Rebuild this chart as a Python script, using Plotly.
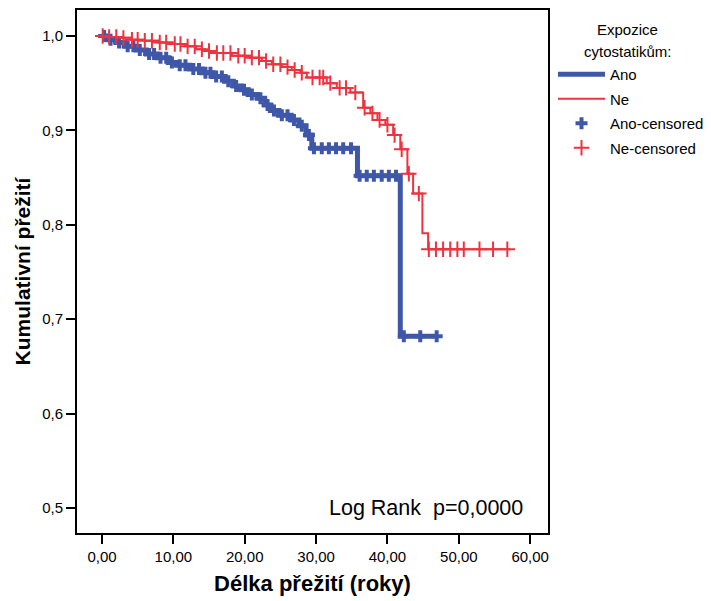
import numpy as np
import plotly.graph_objects as go

# ---- data ----
ano_event_t = [0.8, 2.0, 3.2, 4.8, 6.2, 7.7, 9.3, 10.5, 12.3, 14.0, 15.5, 17.2, 18.4, 19.5, 20.5,
               21.8, 22.8, 23.6, 24.8, 26.5, 27.6, 28.6, 29.4, 35.8, 41.8]
ano_surv = [0.996, 0.993, 0.989, 0.985, 0.981, 0.977, 0.972, 0.969, 0.965, 0.961, 0.957, 0.952,
            0.947, 0.943, 0.938, 0.934, 0.927, 0.921, 0.916, 0.911, 0.905, 0.895, 0.881, 0.852, 0.682]
ano_end = 47.1
ano_cens_t = [0.3, 1.2, 2.4, 3.6, 4.4, 5.3, 6.6, 7.3, 8.2, 9.0, 9.8, 10.9, 11.7, 12.8, 13.6, 14.5,
              15.2, 16.0, 16.8, 17.7, 18.8, 19.9, 21.0, 22.2, 23.2, 24.1, 25.2, 26.0, 26.9, 28.0,
              29.0, 29.7, 30.8, 31.8, 32.8, 33.8, 34.9, 36.1, 37.1, 38.1, 39.2, 40.2, 41.2, 42.3,
              44.6, 46.9]

ne_event_t = [0.4, 2.2, 4.2, 6.0, 7.9, 9.8, 11.6, 13.2, 14.4, 15.8, 18.2, 20.7, 22.4, 23.8, 25.2,
              26.6, 27.8, 28.7, 31.5, 32.9, 34.8, 36.6, 37.6, 38.6, 39.7, 40.8, 41.8, 42.8, 43.6,
              44.9, 45.7]
ne_surv = [0.999, 0.998, 0.996, 0.995, 0.993, 0.9915, 0.989, 0.986, 0.984, 0.982, 0.979, 0.977,
           0.9735, 0.970, 0.967, 0.964, 0.961, 0.956, 0.950, 0.945, 0.940, 0.924, 0.918, 0.911,
           0.906, 0.895, 0.880, 0.854, 0.833, 0.791, 0.774]
ne_end = 57.2
ne_cens_t = [0.1, 1.0, 2.0, 3.0, 4.2, 5.0, 6.0, 7.0, 8.1, 9.0, 10.2, 11.0, 12.0, 13.0, 14.0, 15.0,
             16.1, 17.0, 18.0, 19.1, 20.0, 21.0, 22.0, 23.0, 24.0, 25.0, 26.0, 27.0, 28.0, 29.5,
             30.5, 31.0, 32.0, 33.3, 34.2, 35.5, 36.8, 37.9, 38.9, 40.0, 41.0, 42.0, 43.0, 44.4,
             45.8, 46.8, 47.8, 48.8, 49.8, 50.7, 52.9, 54.8, 56.8]

x_ticks = [0, 10, 20, 30, 40, 50, 60]
x_tick_labels = ["0,00", "10,00", "20,00", "30,00", "40,00", "50,00", "60,00"]
y_ticks = [0.5, 0.6, 0.7, 0.8, 0.9, 1.0]
y_tick_labels = ["0,5", "0,6", "0,7", "0,8", "0,9", "1,0"]

BLUE = "#3f57a8"
RED = "#ee3340"

# page body adds an 8px offset; figure sized so the visible window is 711x601
W, H = 703, 593
ML, MR, MT, MB = 69, 163, 2, 68
PW, PH = W - ML - MR, H - MT - MB


def step_curve(times, surv, end):
    xs = [0.0] + list(times) + [end]
    ys = [1.0] + list(surv) + [surv[-1]]
    return xs, ys


def surv_at(times, surv, t):
    idx = np.searchsorted(np.array(times), np.array(t), side="right")
    s = np.concatenate([[1.0], surv])
    return s[idx]


def px_to_paper(sx, sy):
    # screen pixel -> paper coordinates
    return (sx - 8 - ML) / PW, (H - MB - (sy - 8)) / PH


fig = go.Figure()
ax, ay = step_curve(ano_event_t, ano_surv, ano_end)
nx, ny = step_curve(ne_event_t, ne_surv, ne_end)

fig.add_trace(go.Scatter(x=ax, y=ay, mode="lines", line=dict(color=BLUE, width=5, shape="hv"),
                         name="Ano", legendgroup="a"))
fig.add_trace(go.Scatter(x=nx, y=ny, mode="lines", line=dict(color=RED, width=2, shape="hv"),
                         name="Ne", legendgroup="b"))
fig.add_trace(go.Scatter(x=ano_cens_t, y=surv_at(ano_event_t, ano_surv, ano_cens_t), mode="markers",
                         marker=dict(symbol="cross", size=10, color=BLUE, line=dict(width=0)),
                         name="Ano-censored", legendgroup="c"))
fig.add_trace(go.Scatter(x=ne_cens_t, y=surv_at(ne_event_t, ne_surv, ne_cens_t), mode="markers",
                         marker=dict(symbol="cross-thin", size=11, color=RED,
                                     line=dict(width=2, color=RED)),
                         name="Ne-censored", legendgroup="d"))

fig.add_annotation(x=59.3, y=0.5, xref="x", yref="y", xanchor="right", yanchor="middle",
                   text="Log Rank  p=0,0000", showarrow=False, font=dict(size=21.5, color="black"))

for txt, sx, sy in [("Expozice", 627, 30), ("cytostatikům:", 628, 52)]:
    px, py = px_to_paper(sx, sy)
    fig.add_annotation(x=px, y=py, xref="paper", yref="paper", xanchor="center", yanchor="middle",
                       text=txt, showarrow=False, font=dict(size=15, color="black"))

axis_common = dict(showline=True, linecolor="black", linewidth=2, mirror=True, ticks="outside",
                   ticklen=9, tickwidth=1.5, tickcolor="black", showgrid=False, zeroline=False,
                   automargin=False, tickfont=dict(size=15, color="black"))
fig.update_xaxes(range=[-3.5, 62.5], tickvals=x_ticks, ticktext=x_tick_labels,
                 title=dict(text="<b>Délka přežití (roky)</b>", font=dict(size=22, color="black"),
                            standoff=12), **axis_common)
fig.update_yaxes(range=[0.4735, 1.0275], tickvals=y_ticks, ticktext=y_tick_labels,
                 title=dict(text="<b>Kumulativní přežití</b>", font=dict(size=21, color="black"),
                            standoff=6), **axis_common)

lx, ly = px_to_paper(553, 58)
fig.update_layout(
    width=W, height=H,
    margin=dict(l=ML, r=MR, t=MT, b=MB, autoexpand=False),
    plot_bgcolor="white", paper_bgcolor="white",
    font=dict(family="Liberation Sans, Arial, sans-serif", color="black"),
    legend=dict(x=lx, y=ly, xanchor="left", yanchor="top", itemwidth=47,
                font=dict(size=15), tracegroupgap=2, bgcolor="rgba(0,0,0,0)"),
)

fig.write_html("out.html")
